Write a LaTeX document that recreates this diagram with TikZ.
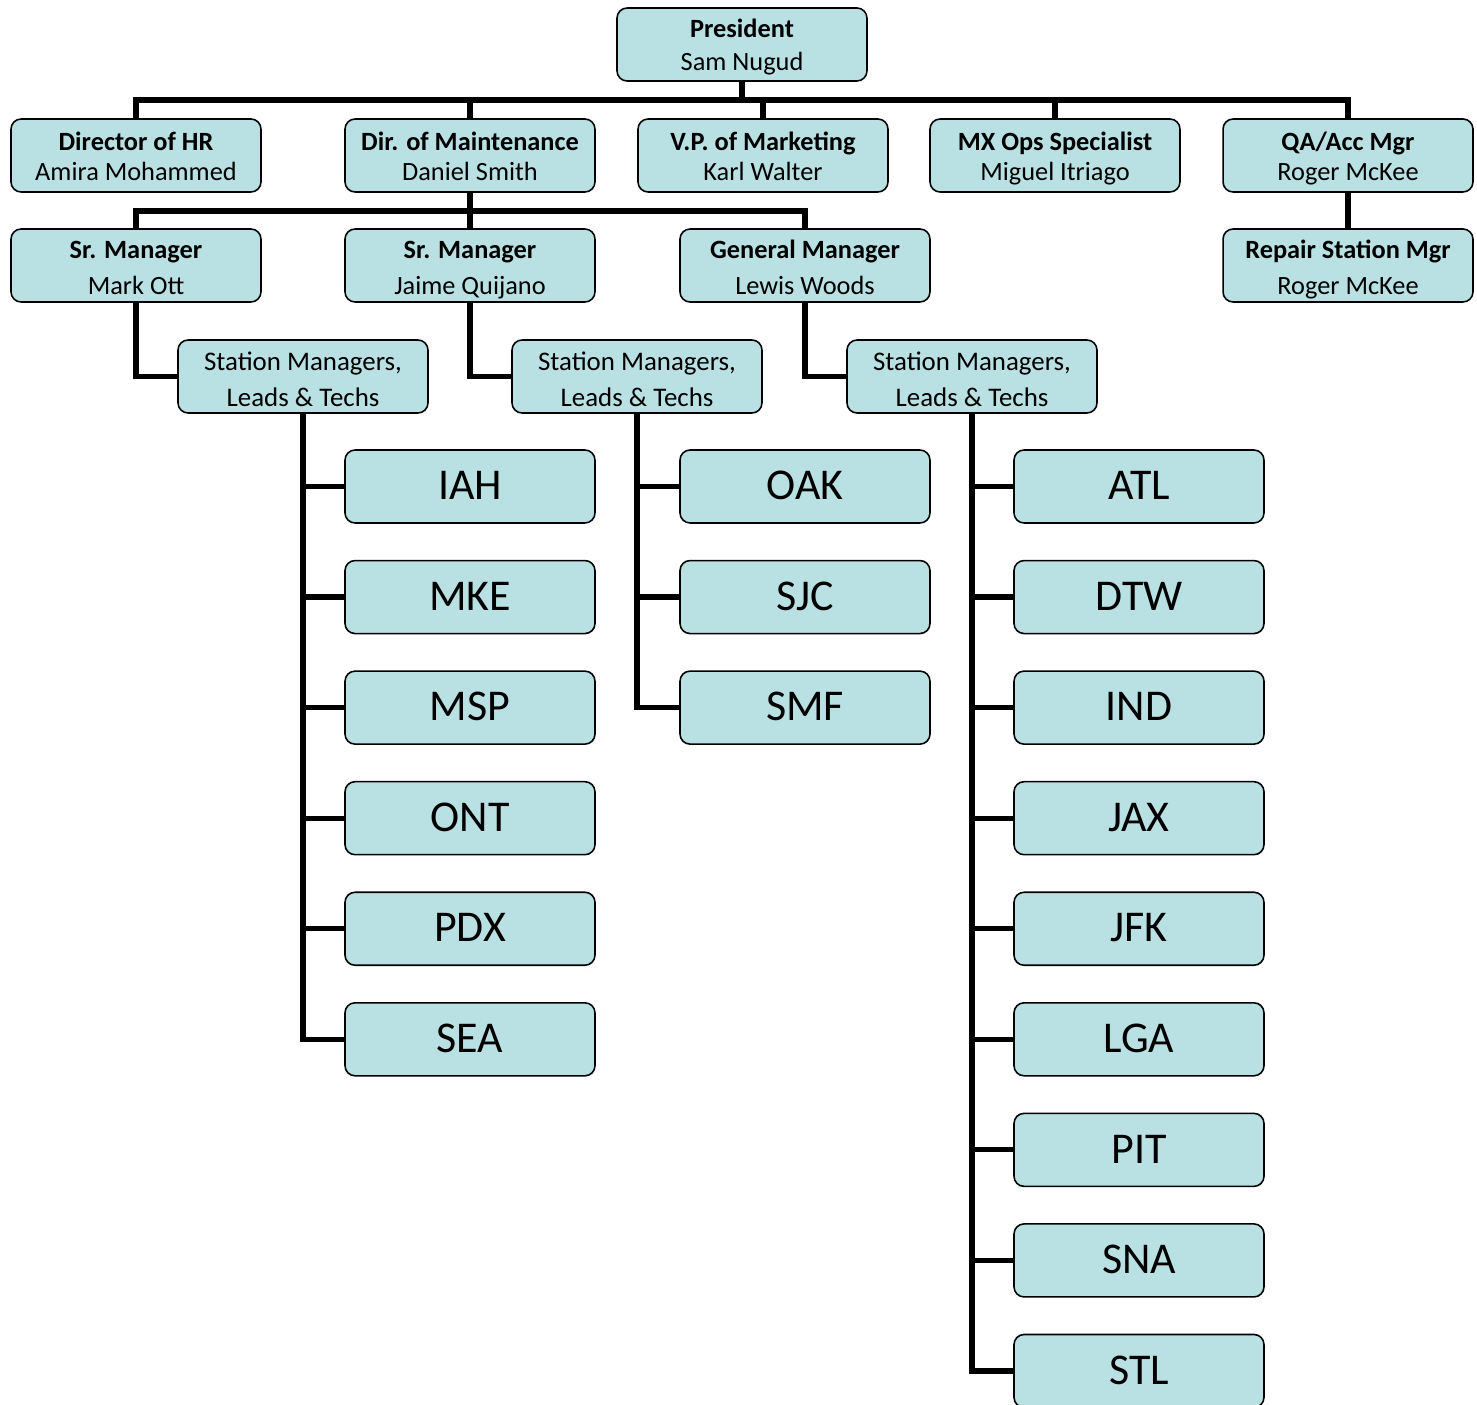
\documentclass[tikz,border=0pt]{standalone}
\usepackage{fontspec}
\setmainfont{Carlito}
\usetikzlibrary{positioning}

\definecolor{boxfill}{RGB}{185,224,227}

\tikzset{
  box/.style={draw, line width=0.9pt, fill=boxfill, rounded corners=0.2cm,
    minimum width=5cm, minimum height=1.46cm, inner sep=0pt, align=center},
  toprow/.style={box, font=\fontsize{15}{19.3}\selectfont, text height=1.06cm, text depth=0cm},
  midrow/.style={box, font=\fontsize{15}{17.6}\selectfont, text height=1.02cm, text depth=0cm},
  lowrow/.style={box, font=\fontsize{15}{21}\selectfont, text height=1.18cm, text depth=0cm},
  stmgr/.style={box, font=\fontsize{15.3}{21}\selectfont, text height=1.22cm, text depth=0cm},
  station/.style={box, font=\fontsize{25}{30}\selectfont, text height=0.53cm, text depth=0cm},
  link/.style={line width=0.105cm}
}

\begin{document}
\begin{tikzpicture}[x=0.02cm, y=-0.02cm]
\useasboundingbox (0,0) rectangle (1477,1405);

% top two rows
\node[toprow] (pres) at (742,44.5) {\textbf{President}\\Sam Nugud};
\node[midrow] (hr) at (136,155.5) {\textbf{Director of HR}\\Amira Mohammed};
\node[midrow] (maint) at (470,155.5) {\textbf{Dir. of Maintenance}\\Daniel Smith};
\node[midrow] (vp) at (763,155.5) {\textbf{V.P. of Marketing}\\Karl Walter};
\node[midrow] (mx) at (1055,155.5) {\textbf{MX Ops Specialist}\\Miguel Itriago};
\node[midrow] (qa) at (1348,155.5) {\textbf{QA/Acc Mgr}\\Roger McKee};

% managers
\node[lowrow] (srm1) at (136,265.5) {\textbf{Sr. Manager}\\Mark Ott};
\node[lowrow] (srm2) at (470,265.5) {\textbf{Sr. Manager}\\Jaime Quijano};
\node[lowrow] (gm) at (805,265.5) {\textbf{General Manager}\\Lewis Woods};
\node[lowrow] (rsm) at (1348,265.5) {\textbf{Repair Station Mgr}\\Roger McKee};

\node[stmgr] (stm1) at (303,376.5) {Station Managers,\\Leads \& Techs};
\node[stmgr] (stm2) at (637,376.5) {Station Managers,\\Leads \& Techs};
\node[stmgr] (stm3) at (972,376.5) {Station Managers,\\Leads \& Techs};

% stations, Mark Ott
\node[station] (iah) at (470,486.5) {IAH};
\node[station, below=0.72cm of iah] (mke) {MKE};
\node[station, below=0.72cm of mke] (msp) {MSP};
\node[station, below=0.72cm of msp] (ont) {ONT};
\node[station, below=0.72cm of ont] (pdx) {PDX};
\node[station, below=0.72cm of pdx] (sea) {SEA};

% stations, Jaime Quijano
\node[station] (oak) at (805,486.5) {OAK};
\node[station, below=0.72cm of oak] (sjc) {SJC};
\node[station, below=0.72cm of sjc] (smf) {SMF};

% stations, Lewis Woods
\node[station] (atl) at (1139,486.5) {ATL};
\node[station, below=0.72cm of atl] (dtw) {DTW};
\node[station, below=0.72cm of dtw] (ind) {IND};
\node[station, below=0.72cm of ind] (jax) {JAX};
\node[station, below=0.72cm of jax] (jfk) {JFK};
\node[station, below=0.72cm of jfk] (lga) {LGA};
\node[station, below=0.72cm of lga] (pit) {PIT};
\node[station, below=0.72cm of pit] (sna) {SNA};
\node[station, below=0.72cm of sna] (stl) {STL};

% connectors
\coordinate (bus1) at (742,100);
\coordinate (bus2) at (470,211);
\draw[link] (pres) -- (pres |- bus1);
\draw[link] (hr) |- (bus1) -| (qa);
\draw[link] (maint) -- (maint |- bus1);
\draw[link] (vp) -- (vp |- bus1);
\draw[link] (mx) -- (mx |- bus1);
\draw[link] (qa) -- (rsm);
\draw[link] (srm1) |- (bus2) -| (gm);
\draw[link] (maint) -- (srm2);
\draw[link] (srm1) |- (stm1);
\draw[link] (srm2) |- (stm2);
\draw[link] (gm) |- (stm3);

\draw[link] (stm1) |- (sea);
\draw[link] (stm1 |- iah) -- (iah);
\draw[link] (stm1 |- mke) -- (mke);
\draw[link] (stm1 |- msp) -- (msp);
\draw[link] (stm1 |- ont) -- (ont);
\draw[link] (stm1 |- pdx) -- (pdx);

\draw[link] (stm2) |- (smf);
\draw[link] (stm2 |- oak) -- (oak);
\draw[link] (stm2 |- sjc) -- (sjc);

\draw[link] (stm3) |- (stl);
\draw[link] (stm3 |- atl) -- (atl);
\draw[link] (stm3 |- dtw) -- (dtw);
\draw[link] (stm3 |- ind) -- (ind);
\draw[link] (stm3 |- jax) -- (jax);
\draw[link] (stm3 |- jfk) -- (jfk);
\draw[link] (stm3 |- lga) -- (lga);
\draw[link] (stm3 |- pit) -- (pit);
\draw[link] (stm3 |- sna) -- (sna);
\end{tikzpicture}
\end{document}
